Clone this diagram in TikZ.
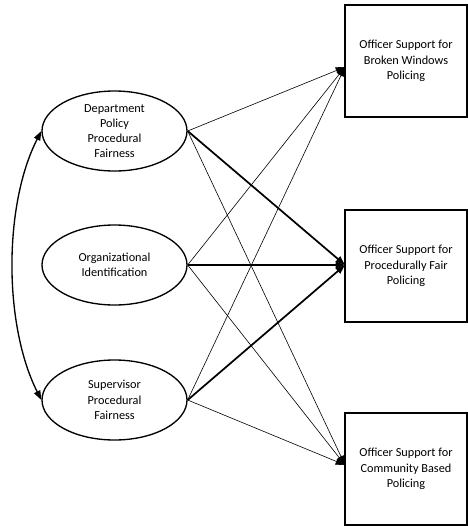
\documentclass[tikz,border=0pt]{standalone}
\usepackage{fontspec}
\setmainfont{Carlito}
\usetikzlibrary{shapes.geometric,arrows.meta}
\begin{document}
\begin{tikzpicture}[x=0.75pt,y=-0.75pt,
  factor/.style={ellipse,draw,line width=1pt,minimum width=108.75pt,minimum height=60pt,
    inner sep=0pt,align=center,font=\fontsize{9.2}{11.4}\selectfont},
  outcome/.style={rectangle,draw,line width=0.9pt,minimum width=91.5pt,minimum height=84pt,
    inner sep=0pt,align=center,font=\fontsize{9.2}{11.4}\selectfont},
  thinpath/.style={line width=0.45pt,-{Triangle[length=7pt,width=5pt]}},
  thickpath/.style={line width=1.3pt,-{Triangle[length=7pt,width=5pt]}},
  covpath/.style={line width=1pt,{Triangle[length=7pt,width=5pt]}-{Triangle[length=7pt,width=5pt]}}]
\useasboundingbox (0,0) rectangle (468,526);

% predictors
\node[factor] (dp) at (114.5,131) {Department\\Policy\\Procedural\\Fairness};
\node[factor] (oi) at (114.5,265) {Organizational\\Identification};
\node[factor] (sp) at (114.5,400) {Supervisor\\Procedural\\Fairness};

% outcomes
\node[outcome] (bw) at (406,61) {Officer Support for\\Broken Windows\\Policing};
\node[outcome] (pf) at (406,266) {Officer Support for\\Procedurally Fair\\Policing};
\node[outcome] (cb) at (406,469) {Officer Support for\\Community Based\\Policing};

% arrival points on the outcome boxes
\coordinate (bwin) at (345,67);
\coordinate (pfin) at (345,265);
\coordinate (cbin) at (345,465);

% paths
\draw[thinpath] (dp.east) -- (bwin);
\draw[thickpath] (dp.east) -- (pfin);
\draw[thinpath] (dp.east) -- (cbin);
\draw[thinpath] (oi.east) -- (bwin);
\draw[thickpath] (oi.east) -- (pfin);
\draw[thinpath] (oi.east) -- (cbin);
\draw[thinpath] (sp.east) -- (bwin);
\draw[thickpath] (sp.east) -- (pfin);
\draw[thinpath] (sp.east) -- (cbin);

% correlation between the two fairness factors
\draw[covpath] (dp.west) .. controls (3.5,205) and (3.5,325) .. (sp.west);
\end{tikzpicture}
\end{document}
